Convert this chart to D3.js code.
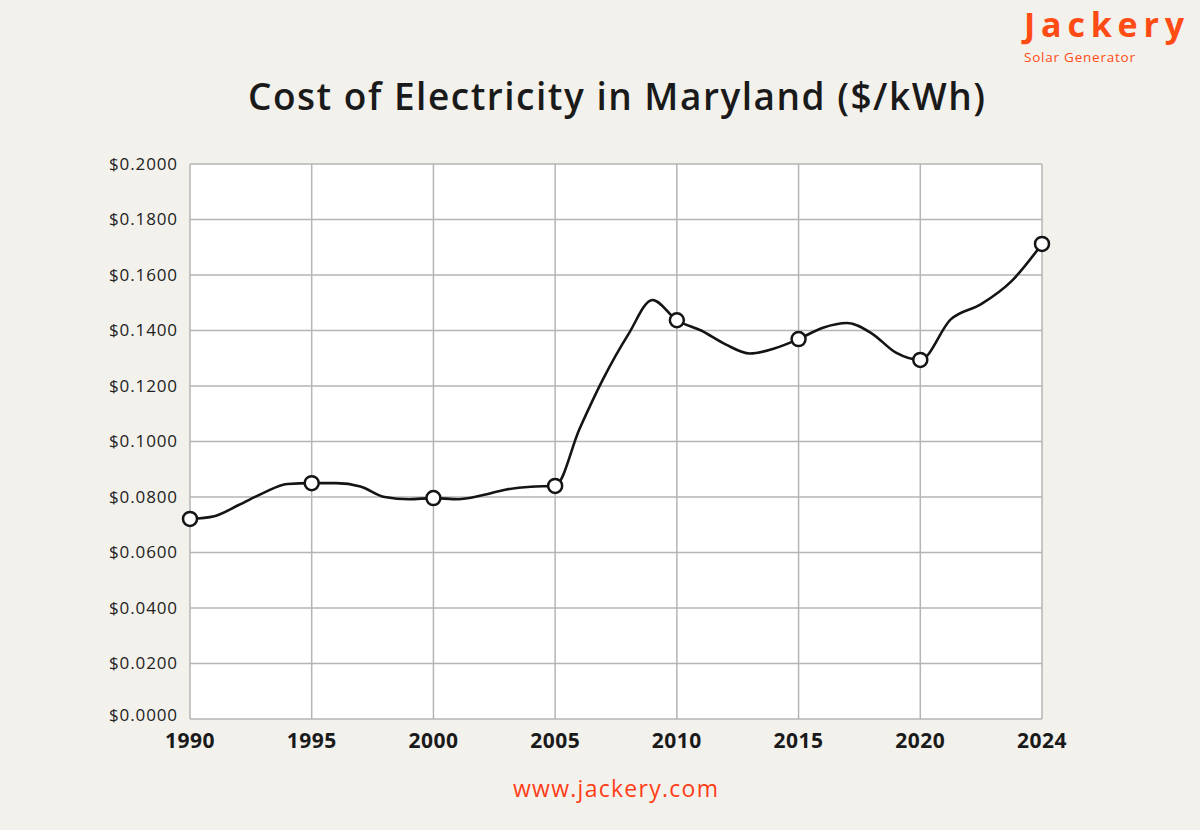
<!DOCTYPE html>
<html>
<head>
<meta charset="utf-8">
<script src="https://cdn.jsdelivr.net/npm/d3@7"></script>
<style>
  html, body { margin: 0; padding: 0; background: #f3f1ec; }
  svg { display: block; }
</style>
</head>
<body>
<div id="chart"></div>
<script>
// ---- Data ----
const years = [1990,1991,1992,1993,1994,1995,1996,1997,1998,1999,2000,2001,2002,2003,2004,2005,2006,2007,2008,2009,2010,2011,2012,2013,2014,2015,2016,2017,2018,2019,2020,2021,2022,2023,2024];
const prices = [0.0721,0.0731,0.0771,0.0814,0.0847,0.0850,0.0850,0.0838,0.0800,0.0792,0.0796,0.0792,0.0806,0.0827,0.0837,0.0840,0.1045,0.1230,0.1385,0.1510,0.1437,0.1400,0.1350,0.1317,0.1335,0.1369,0.1410,0.1427,0.1390,0.1320,0.1294,0.1440,0.1495,0.1578,0.1712];
const tickYears = [1990,1995,2000,2005,2010,2015,2020,2024];
const yTicks = [0,0.02,0.04,0.06,0.08,0.10,0.12,0.14,0.16,0.18,0.20];
const title = "Cost of Electricity in Maryland ($/kWh)";

const W = 1200, H = 830;
const plot = { left: 190, right: 1042, top: 164, bottom: 719 };

const svg = d3.select("#chart").append("svg").attr("width", W).attr("height", H);
svg.append("rect").attr("width", W).attr("height", H).attr("fill", "#f3f1ec");

// x: evenly spaced label ticks (piecewise linear)
const step = (plot.right - plot.left) / (tickYears.length - 1);
const x = d3.scaleLinear()
  .domain(tickYears)
  .range(tickYears.map((d, i) => plot.left + i * step));
const y = d3.scaleLinear().domain([0, 0.2]).range([plot.bottom, plot.top]);

// plot background
svg.append("rect")
  .attr("x", plot.left).attr("y", plot.top)
  .attr("width", plot.right - plot.left).attr("height", plot.bottom - plot.top)
  .attr("fill", "#ffffff");

const gridColor = "#b5b5b5";
// horizontal grid
svg.append("g").selectAll("line").data(yTicks).join("line")
  .attr("x1", plot.left).attr("x2", plot.right)
  .attr("y1", d => y(d)).attr("y2", d => y(d))
  .attr("stroke", gridColor).attr("stroke-width", 1.5);
// vertical grid
svg.append("g").selectAll("line").data(tickYears).join("line")
  .attr("x1", d => x(d)).attr("x2", d => x(d))
  .attr("y1", plot.top).attr("y2", plot.bottom)
  .attr("stroke", gridColor).attr("stroke-width", 1.5);

// y labels
svg.append("g").selectAll("text").data(yTicks).join("text")
  .attr("x", plot.left - 12)
  .attr("y", d => d === 0 ? y(d) - 4 : y(d))
  .attr("dy", "0.35em")
  .attr("text-anchor", "end")
  .attr("font-family", "Open Sans, sans-serif")
  .attr("font-size", 17)
  .attr("letter-spacing", 0.9)
  .attr("fill", "#222")
  .text(d => "$" + d.toFixed(4));

// x labels
svg.append("g").selectAll("text").data(tickYears).join("text")
  .attr("x", d => x(d))
  .attr("y", 748)
  .attr("text-anchor", "middle")
  .attr("font-family", "Open Sans, sans-serif")
  .attr("font-weight", 700)
  .attr("font-size", 21)
  .attr("letter-spacing", 0.5)
  .attr("fill", "#1a1a1a")
  .text(d => d);

// line
const data = years.map((yr, i) => ({ year: yr, value: prices[i] }));
const line = d3.line().x(d => x(d.year)).y(d => y(d.value)).curve(d3.curveMonotoneX);
svg.append("path").datum(data)
  .attr("d", line)
  .attr("fill", "none")
  .attr("stroke", "#141414")
  .attr("stroke-width", 2.6)
  .attr("stroke-linejoin", "round");

// markers at labeled years
svg.append("g").selectAll("circle").data(data.filter(d => tickYears.includes(d.year))).join("circle")
  .attr("cx", d => x(d.year)).attr("cy", d => y(d.value))
  .attr("r", 7)
  .attr("fill", "#fff")
  .attr("stroke", "#141414")
  .attr("stroke-width", 2.5);

// title
svg.append("text")
  .attr("x", 248).attr("y", 110)
  .attr("font-family", "Open Sans, sans-serif")
  .attr("font-weight", 600)
  .attr("font-size", 37)
  .attr("textLength", 737)
  .attr("lengthAdjust", "spacing")
  .attr("fill", "#1a1a1a")
  .text(title);

// logo
svg.append("text")
  .attr("x", 1024).attr("y", 37)
  .attr("font-family", "Open Sans, sans-serif")
  .attr("font-weight", 700)
  .attr("font-size", 34)
  .attr("textLength", 160)
  .attr("lengthAdjust", "spacing")
  .attr("fill", "#ff4b14")
  .text("Jackery");
svg.append("text")
  .attr("x", 1024).attr("y", 62)
  .attr("font-family", "Open Sans, sans-serif")
  .attr("font-size", 13.5)
  .attr("textLength", 111)
  .attr("lengthAdjust", "spacing")
  .attr("fill", "#ff4b14")
  .text("Solar Generator");

// footer
svg.append("text")
  .attr("x", 513).attr("y", 797)
  .attr("font-family", "Open Sans, sans-serif")
  .attr("font-size", 23)
  .attr("textLength", 205)
  .attr("lengthAdjust", "spacing")
  .attr("fill", "#ff3d17")
  .text("www.jackery.com");
</script>
</body>
</html>
